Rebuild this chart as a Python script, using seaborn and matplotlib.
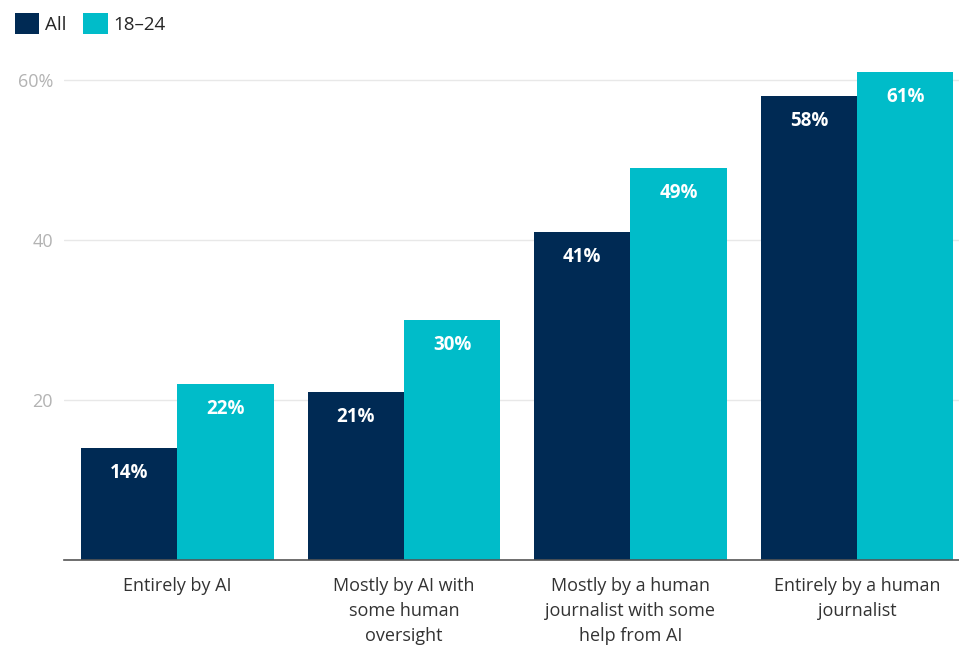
import matplotlib
matplotlib.use("Agg")
import matplotlib.pyplot as plt
import seaborn as sns
import pandas as pd
from matplotlib.patches import Patch

categories = ["Entirely by AI", "Mostly by AI with\nsome human\noversight",
              "Mostly by a human\njournalist with some\nhelp from AI", "Entirely by a human\njournalist"]
series_names = ["All", "18\u201324"]
all_values = [14, 21, 41, 58]
young_values = [22, 30, 49, 61]
colors = ["#002a54", "#00bcc9"]
y_ticks = [20, 40, 60]
y_tick_labels = ["20", "40", "60%"]

df = pd.DataFrame({
    "category": categories * 2,
    "group": [series_names[0]] * 4 + [series_names[1]] * 4,
    "value": all_values + young_values,
})

sns.set_theme(style="white")
plt.rcParams["font.family"] = ["Open Sans", "DejaVu Sans"]

fig = plt.figure(figsize=(9.59, 6.47), dpi=100)
ax = fig.add_axes([64 / 959, 1 - 560 / 647, (959 - 64) / 959, (560 - 64) / 647])

sns.barplot(data=df, x="category", y="value", hue="group", palette=colors,
            width=0.85, saturation=1, ax=ax, legend=False, errorbar=None, linewidth=0)

ax.set_ylim(0, 62)
ax.set_xlim(-0.5, 3.45)
ax.set_yticks(y_ticks)
ax.set_yticklabels(y_tick_labels)
ax.tick_params(axis="y", length=0, labelsize=13, labelcolor="#b3b3b3", pad=8)
ax.tick_params(axis="x", length=0, labelsize=13, labelcolor="#333333", pad=12)
ax.yaxis.grid(True, color="#e8e8e8", linewidth=1)
ax.set_axisbelow(True)
for s in ["top", "right", "left"]:
    ax.spines[s].set_visible(False)
ax.spines["bottom"].set_color("#555555")
ax.spines["bottom"].set_linewidth(1.2)
ax.set_xlabel("")
ax.set_ylabel("")
for lbl in ax.get_xticklabels():
    lbl.set_linespacing(1.5)

for cont in ax.containers:
    ax.bar_label(cont, labels=[f"{v:.0f}%" for v in cont.datavalues], label_type="edge",
                 padding=-25, color="white", fontsize=13.5, fontweight="bold")

handles = [Patch(facecolor=c, edgecolor="none") for c in colors]
fig.legend(handles, series_names, loc="upper left", bbox_to_anchor=(0.002, 1.0), ncol=2,
           frameon=False, fontsize=13.5, handlelength=1.3, handleheight=1.3,
           handletextpad=0.3, columnspacing=0.9, borderaxespad=0.3)

fig.savefig("out.png", dpi=100)
